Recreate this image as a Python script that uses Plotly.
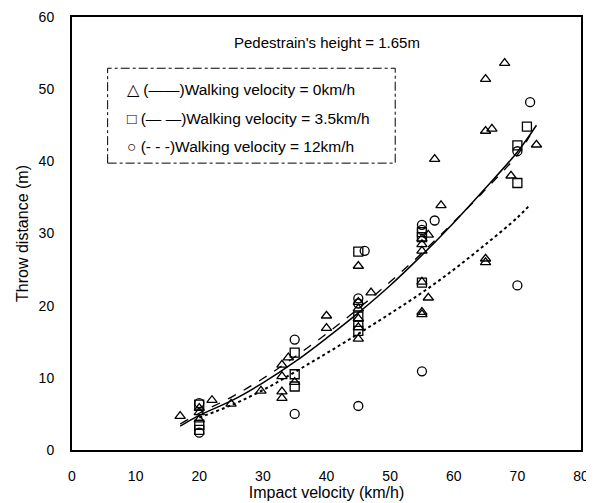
import plotly.graph_objects as go

# ---- data ----
tri_x = [17, 20, 20, 20, 22, 25, 29.7, 33, 33, 33, 33, 34, 35, 40, 40, 45, 45, 45, 45, 45, 45, 47,
         55, 55, 55, 55, 55, 55, 56, 56, 57, 58, 65, 65, 66, 65, 65, 68, 69, 73]
tri_y = [4.7, 5.8, 5.2, 4.2, 6.9, 6.4, 8.2, 11.8, 10.2, 8.1, 7.2, 12.8, 9.4, 18.6, 16.9, 25.5, 20.5,
         19.6, 18.2, 17.0, 15.4, 21.8, 29.3, 28.5, 27.6, 23.3, 19.1, 18.8, 21.1, 29.8, 40.3, 33.9,
         51.4, 44.2, 44.5, 26.5, 26.0, 53.6, 38.0, 42.3]

sq_x = [20, 20, 20, 35, 35, 35, 45, 45, 45, 45, 55, 55, 55, 70, 70, 71.5]
sq_y = [6.3, 3.5, 2.8, 13.5, 10.5, 8.8, 27.5, 18.5, 17.3, 16.5, 30.2, 29.5, 23.2, 42.2, 37.0, 44.8]

ci_x = [20, 20, 35, 35, 45, 45, 45, 46, 55, 55, 55, 57, 70, 70, 72]
ci_y = [6.5, 2.4, 15.3, 5.0, 21.0, 20.3, 6.1, 27.6, 31.2, 30.5, 10.9, 31.8, 41.4, 22.8, 48.2]

fit0_x = [17, 20, 25, 30, 35, 40, 45, 50, 55, 60, 65, 70, 73]
fit0_y = [3.3, 4.8, 6.8, 9.3, 12.2, 15.5, 19.0, 22.8, 27.0, 31.5, 36.3, 41.3, 45.0]

fit35_x = [17, 20, 25, 30, 35, 40, 45, 50, 55, 60, 65, 70, 72]
fit35_y = [3.6, 5.1, 7.3, 9.9, 12.9, 16.1, 19.6, 23.3, 27.3, 31.6, 36.1, 40.9, 43.6]

fit12_x = [20, 25, 30, 35, 40, 45, 50, 55, 60, 65, 70, 72]
fit12_y = [4.5, 6.2, 8.3, 10.8, 13.4, 16.1, 18.9, 21.8, 25.0, 28.5, 32.2, 34.0]

x_ticks = [0, 10, 20, 30, 40, 50, 60, 70, 80]
y_ticks = [0, 10, 20, 30, 40, 50, 60]

title_text = "Pedestrain's height = 1.65m"
legend_texts = ["\u25b3 (\u2014\u2014)Walking velocity = 0km/h",
                "\u25a1 (\u2014 \u2014)Walking velocity = 3.5km/h",
                "\u25cb (- - -)Walking velocity = 12km/h"]

FONT = "Liberation Sans, Arial, sans-serif"

fig = go.Figure()
fig.add_trace(go.Scatter(x=fit0_x, y=fit0_y, mode="lines", line=dict(color="black", width=1.5, shape="spline")))
fig.add_trace(go.Scatter(x=fit35_x, y=fit35_y, mode="lines", line=dict(color="black", width=1.3, dash="dash", shape="spline")))
fig.add_trace(go.Scatter(x=fit12_x, y=fit12_y, mode="lines", line=dict(color="black", width=2, dash="dot", shape="spline")))
fig.add_trace(go.Scatter(x=tri_x, y=tri_y, mode="markers",
                         marker=dict(symbol="triangle-up-open", size=9, color="black", line=dict(width=1.3))))
fig.add_trace(go.Scatter(x=sq_x, y=sq_y, mode="markers",
                         marker=dict(symbol="square-open", size=9, color="black", line=dict(width=1.3))))
fig.add_trace(go.Scatter(x=ci_x, y=ci_y, mode="markers",
                         marker=dict(symbol="circle-open", size=9, color="black", line=dict(width=1.3))))

fig.add_annotation(x=0.5, y=56.4, xref="paper", yref="y", text=title_text, showarrow=False,
                   font=dict(family=FONT, size=15, color="black"))

# legend box
fig.add_shape(type="rect", x0=5.6, x1=50.8, y0=39.75, y1=52.9, xref="x", yref="y",
              line=dict(color="black", width=1, dash="dashdot"), fillcolor="white", layer="below")
for i, t in enumerate(legend_texts):
    fig.add_annotation(x=8.4, y=49.9 - i * 3.95, xref="x", yref="y", text=t, showarrow=False,
                       xanchor="left", font=dict(family=FONT, size=15.5, color="black"))

axis_common = dict(showgrid=False, zeroline=False, showline=True, linecolor="black", linewidth=2,
                   mirror=True, ticks="", automargin=False,
                   tickfont=dict(family=FONT, size=14, color="black"))
fig.update_xaxes(range=[0, 80], tickvals=x_ticks, ticklabelstandoff=12,
                 title=dict(text="Impact velocity (km/h)", standoff=4,
                            font=dict(family=FONT, size=16, color="black")), **axis_common)
fig.update_yaxes(range=[0, 60], tickvals=y_ticks, ticklabelstandoff=13,
                 title=dict(text="Throw distance (m)", standoff=6,
                            font=dict(family=FONT, size=16, color="black")), **axis_common)

# page body has an 8px margin, so the figure is drawn 8px smaller and offset accordingly
fig.update_layout(width=586, height=495, margin=dict(l=64, r=13, t=9, b=53),
                  paper_bgcolor="white", plot_bgcolor="white", showlegend=False)

fig.write_html("out.html")
